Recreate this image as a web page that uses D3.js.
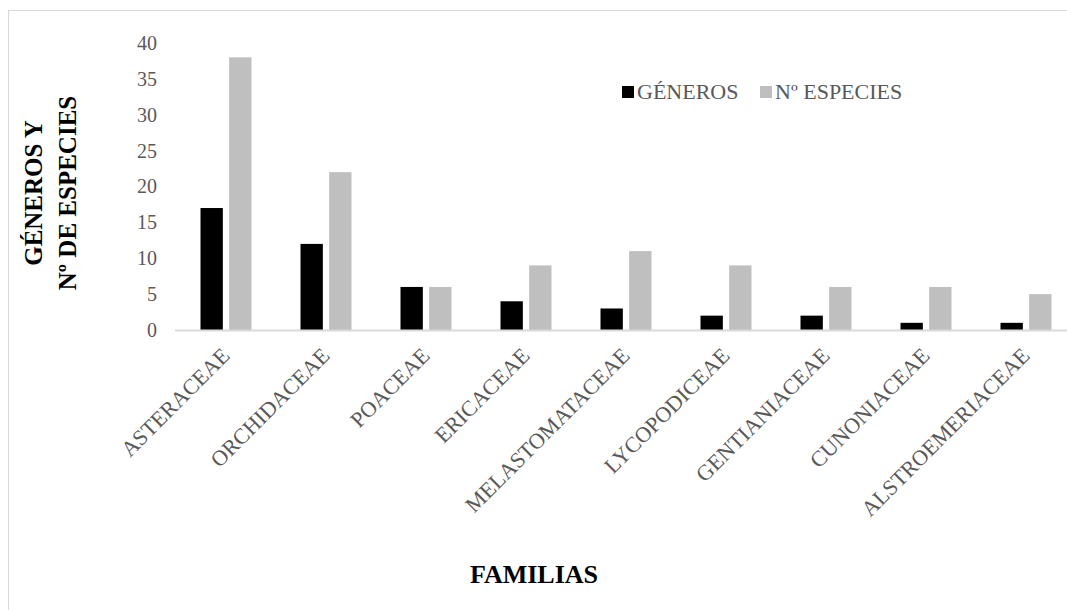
<!DOCTYPE html>
<html>
<head>
<meta charset="utf-8">
<script src="https://cdn.jsdelivr.net/npm/d3@7/dist/d3.min.js"></script>
<style>
  html, body { margin: 0; padding: 0; background: #fff; }
  svg { display: block; }
  text { font-family: "Liberation Serif", "Times New Roman", serif; }
</style>
</head>
<body>
<svg id="chart" width="1067" height="610"></svg>
<script>
const categories = ["ASTERACEAE", "ORCHIDACEAE", "POACEAE", "ERICACEAE", "MELASTOMATACEAE",
  "LYCOPODICEAE", "GENTIANIACEAE", "CUNONIACEAE", "ALSTROEMERIACEAE"];
const generos = [17, 12, 6, 4, 3, 2, 2, 1, 1];
const especies = [38, 22, 6, 9, 11, 9, 6, 6, 5];
const seriesNames = ["GÉNEROS", "Nº ESPECIES"];
const seriesColors = ["#000000", "#bfbfbf"];
const yTicks = [0, 5, 10, 15, 20, 25, 30, 35, 40];

const svg = d3.select("#chart");

// outer frame
svg.append("rect").attr("x", 8.5).attr("y", 10.5).attr("width", 1200).attr("height", 800)
  .attr("fill", "none").attr("stroke", "#d9d9d9").attr("stroke-width", 1);

const x0 = d3.scaleBand().domain(categories).range([176, 1076]).paddingInner(0.49).paddingOuter(0.245);
const x1 = d3.scaleBand().domain(seriesNames).range([0, x0.bandwidth()]).paddingInner(0.22).paddingOuter(0);
const y = d3.scaleLinear().domain([0, 40]).range([330, 43]);

// y axis labels
const yAxis = d3.axisLeft(y).tickValues(yTicks).tickSize(0).tickPadding(18);
const gy = svg.append("g").attr("transform", "translate(175,0)").call(yAxis)
  .attr("font-family", "'Liberation Serif', 'Times New Roman', serif");
gy.select(".domain").remove();
gy.selectAll("text").attr("fill", "#595959").style("font-size", "20px");

// bars
const data = categories.map((c, i) => ({ cat: c, vals: [generos[i], especies[i]] }));
const groups = svg.append("g").selectAll("g").data(data).join("g")
  .attr("transform", d => `translate(${x0(d.cat)},0)`);
groups.selectAll("rect").data(d => d.vals.map((v, j) => ({ v, s: seriesNames[j], c: seriesColors[j] })))
  .join("rect")
  .attr("x", d => x1(d.s))
  .attr("y", d => y(d.v))
  .attr("width", x1.bandwidth())
  .attr("height", d => y(0) - y(d.v))
  .attr("fill", d => d.c);

// baseline
svg.append("line").attr("x1", 175).attr("x2", 1067).attr("y1", y(0) + 0.5).attr("y2", y(0) + 0.5)
  .attr("stroke", "#d9d9d9").attr("stroke-width", 2);

// category labels
svg.append("g").selectAll("text").data(categories).join("text")
  .attr("transform", d => `translate(${x0(d) + x0.bandwidth() / 2 + 5},${y(0) + 27}) rotate(-45)`)
  .attr("text-anchor", "end")
  .attr("fill", "#595959")
  .style("font-size", "22px")
  .text(d => d);

// legend
const legend = svg.append("g");
const legX = [622, 760];
seriesNames.forEach((s, i) => {
  legend.append("rect").attr("x", legX[i]).attr("y", 86).attr("width", 12).attr("height", 12)
    .attr("fill", seriesColors[i]);
  legend.append("text").attr("x", legX[i] + 15).attr("y", 99)
    .attr("fill", "#595959").style("font-size", "22px").text(s);
});

// y axis title
const yt = svg.append("text").attr("transform", "translate(0,193) rotate(-90)")
  .attr("text-anchor", "middle").attr("fill", "#000").style("font-size", "25px").style("font-weight", "bold");
yt.append("tspan").attr("x", 0).attr("y", 42).text("GÉNEROS Y");
yt.append("tspan").attr("x", 0).attr("y", 76).text("Nº DE ESPECIES");

// x axis title
svg.append("text").attr("x", 534).attr("y", 583).attr("text-anchor", "middle")
  .attr("fill", "#000").style("font-size", "26px").style("font-weight", "bold").text("FAMILIAS");
</script>
</body>
</html>
